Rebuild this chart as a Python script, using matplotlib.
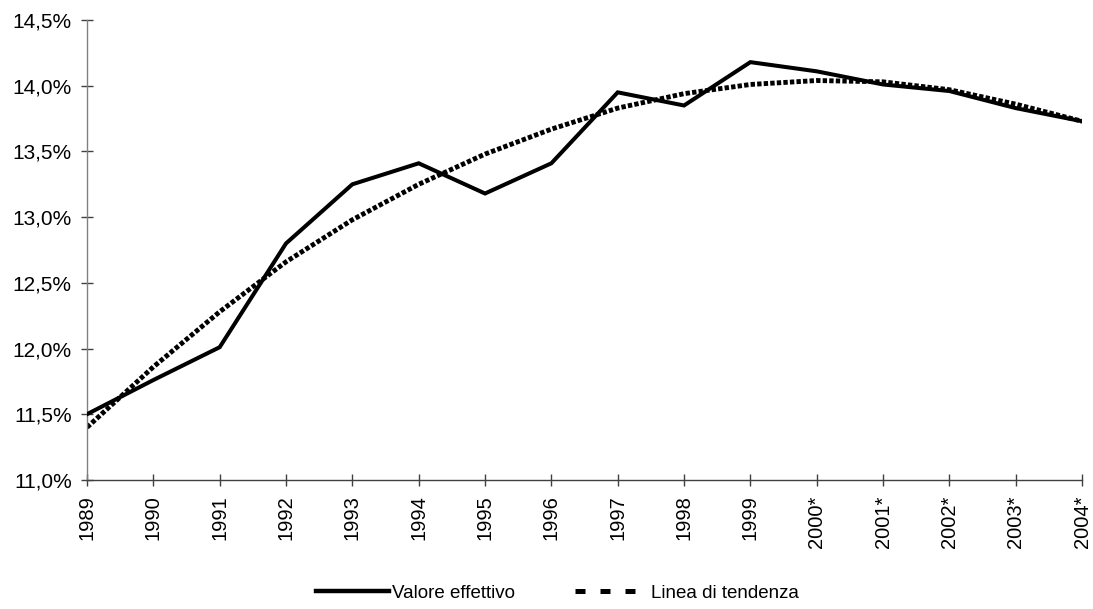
import matplotlib.pyplot as plt
from matplotlib.lines import Line2D
from matplotlib.ticker import FuncFormatter

plt.rcParams['font.family'] = ['Liberation Sans', 'DejaVu Sans']

# data (values in %)
years = ['1989', '1990', '1991', '1992', '1993', '1994', '1995', '1996',
         '1997', '1998', '1999', '2000*', '2001*', '2002*', '2003*', '2004*']
actual = [11.50, 11.76, 12.01, 12.80, 13.25, 13.41, 13.18, 13.41,
          13.95, 13.85, 14.18, 14.11, 14.01, 13.96, 13.83, 13.73]
trend = [11.40, 11.86, 12.28, 12.66, 12.98, 13.25, 13.48, 13.67,
         13.83, 13.94, 14.01, 14.04, 14.03, 13.97, 13.86, 13.73]

fig = plt.figure(figsize=(10.93, 6.09), dpi=100)
ax = fig.add_axes([0.0796, 0.212, 0.9104, 0.755])

x = list(range(len(years)))
ax.plot(x, trend, color='black', lw=3.5, linestyle=(0, (0.9, 0.45)),
        dash_capstyle='butt', zorder=2)
ax.plot(x, actual, color='black', lw=2.9, solid_joinstyle='miter', zorder=3)

ax.set_xlim(0, len(years) - 1)
ax.set_ylim(11.0, 14.5)
ax.set_yticks([11.0, 11.5, 12.0, 12.5, 13.0, 13.5, 14.0, 14.5])
ax.yaxis.set_major_formatter(FuncFormatter(lambda v, p: f'{v:.1f}%'.replace('.', ',')))
ax.set_xticks(x)
ax.set_xticklabels(years, rotation=90)

for side in ['top', 'right']:
    ax.spines[side].set_visible(False)
ax.spines['left'].set_color('#808080')
ax.spines['bottom'].set_color('#404040')
ax.spines['left'].set_linewidth(1.0)
ax.spines['bottom'].set_linewidth(1.0)
ax.tick_params(axis='y', direction='inout', length=8, width=1.0, color='#404040',
               labelsize=15, pad=7)
ax.tick_params(axis='x', direction='inout', length=8, width=1.0, color='#404040',
               labelsize=14.5, pad=7)

handles = [Line2D([], [], color='black', lw=3.2),
           Line2D([], [], color='black', lw=3.6, linestyle=(0, (2.0, 3.0)),
                  dash_capstyle='butt')]
fig.legend(handles, ['Valore effettivo', 'Linea di tendenza'], loc='lower center',
           bbox_to_anchor=(0.51, -0.016), ncol=2, frameon=False, fontsize=13.5,
           handlelength=3.9, handletextpad=0.15, columnspacing=3.25)

fig.savefig('out.png', dpi=100)
